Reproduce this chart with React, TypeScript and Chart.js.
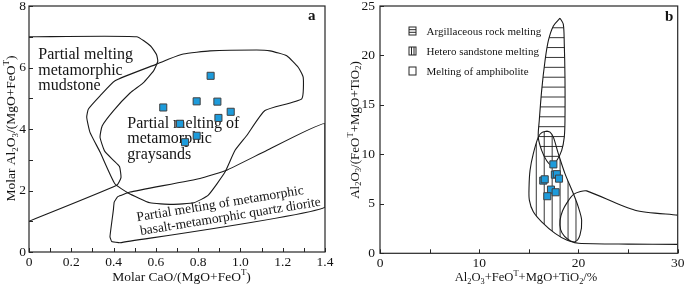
import React, { useEffect, useRef } from 'react';
import { Chart, registerables } from 'chart.js';

Chart.register(...registerables);

type Pt = [number, number];
type Seg = { t: string; s?: 'sub' | 'sup' };

const SERIF = '"Liberation Serif", "Times New Roman", Times, serif';
const INK = '#141414';

// ---------------- Panel a data ----------------
const aXTickValues = [0, 0.2, 0.4, 0.6, 0.8, 1.0, 1.2, 1.4];
const aXTickLabels = ['0', '0.2', '0.4', '0.6', '0.8', '1.0', '1.2', '1.4'];
const aYTickValues = [0, 2, 4, 6, 8];
const aYTickLabels = ['0', '2', '4', '6', '8'];

const aSampleCaO = [0.859, 0.635, 0.793, 0.891, 0.954, 0.896, 0.714, 0.793, 0.738];
const aSampleAl = [5.73, 4.7, 4.9, 4.89, 4.56, 4.36, 4.17, 3.78, 3.57];

const aMudstoneField: Pt[] = [
  [0, 7.0], [0.509, 7.0], [0.575, 6.7], [0.603, 6.42], [0.609, 6.2], [0.59, 5.9],
  [0.54, 5.5], [0.478, 5.17], [0.4, 4.6], [0.346, 4.1], [0.336, 3.73], [0.358, 3.28],
  [0.4, 2.98], [0.428, 2.78], [0.435, 2.42], [0.415, 2.17], [0, 1.0],
];
const aGraysandField: Pt[] = [
  [0.604, 6.11], [0.659, 6.27], [0.73, 6.44], [0.856, 6.54], [1.077, 6.57], [1.14, 6.54],
  [1.219, 6.38], [1.274, 6.0], [1.297, 5.68], [1.29, 4.98], [1.116, 4.6], [1.03, 3.79],
  [0.974, 3.3], [0.927, 2.6], [0.848, 1.85], [0.78, 1.6], [0.675, 1.55], [0.572, 1.6],
  [0.469, 1.92], [0.406, 2.22], [0.336, 3.25], [0.288, 3.9], [0.273, 4.38], [0.281, 4.65],
  [0.336, 5.08], [0.407, 5.57], [0.604, 6.11],
];
const aDioriteField: Pt[] = [
  [0.43, 0.3], [1.4, 1.46], [1.4, 4.17], [1.124, 3.3], [0.935, 2.66], [0.809, 2.39],
  [0.478, 1.95], [0.42, 1.8], [0.403, 1.62], [0.399, 1.36], [0.383, 0.5], [0.391, 0.34],
  [0.43, 0.3],
];

const aMudstoneLabel = ['Partial melting', 'metamorphic', 'mudstone'];
const aGraysandLabel = ['Partial melting of', 'metamorphic', 'graysands'];
const aDioriteLabel = ['Partial melting of metamorphic', 'basalt-metamorphic quartz diorite'];

const aXTitle: Seg[] = [{ t: 'Molar CaO/(MgO+FeO' }, { t: 'T', s: 'sup' }, { t: ')' }];
const aYTitle: Seg[] = [
  { t: 'Molar Al' }, { t: '2', s: 'sub' }, { t: 'O' }, { t: '3', s: 'sub' },
  { t: '/(MgO+FeO' }, { t: 'T', s: 'sup' }, { t: ')' },
];

// ---------------- Panel b data ----------------
const bXTickValues = [0, 10, 20, 30];
const bXTickLabels = ['0', '10', '20', '30'];
const bYTickValues = [0, 5, 10, 15, 20, 25];
const bYTickLabels = ['0', '5', '10', '15', '20', '25'];

const bSampleSum = [17.47, 17.62, 17.82, 18.04, 16.45, 16.6, 17.23, 17.7, 16.86];
const bSampleRatio = [8.99, 7.95, 8.0, 7.55, 7.35, 7.48, 6.44, 6.17, 5.77];

const bArgillaceousField: Pt[] = [
  [18.14, 23.77], [18.47, 23.16], [18.57, 21.15], [18.64, 17.78], [18.64, 13.42],
  [18.57, 11.74], [18.31, 10.4], [17.8, 9.35], [17.3, 8.9], [16.8, 9.35], [16.29, 10.4],
  [15.95, 11.74], [16.05, 13.42], [16.29, 16.45], [16.63, 19.47], [16.96, 21.48],
  [17.47, 22.99], [18.14, 23.77],
];
const bHeteroField: Pt[] = [
  [16.8, 12.35], [17.13, 12.25], [17.47, 11.74], [17.97, 10.07], [18.64, 8.06],
  [19.48, 6.04], [19.98, 4.69], [20.32, 3.35], [20.15, 1.84], [19.65, 1.17], [18.81, 1.34],
  [17.64, 2.01], [16.29, 3.18], [15.45, 4.19], [15.05, 5.37], [15.02, 6.71], [15.12, 8.39],
  [15.45, 10.07], [15.95, 11.74], [16.3, 12.2], [16.8, 12.35],
];
const bAmphiboliteField: Pt[] = [
  [30, 3.86], [25.7, 4.36], [20.83, 6.31], [20.2, 6.25], [19.5, 5.95], [18.9, 5.2],
  [18.4, 4.3], [18.14, 3.3], [18.2, 2.4], [18.6, 1.7], [19.2, 1.25], [20.0, 1.02],
  [25, 0.93], [30, 0.9],
];

const bLegendLabels = ['Argillaceous rock melting', 'Hetero sandstone melting', 'Melting of amphibolite'];

const bXTitle: Seg[] = [
  { t: 'Al' }, { t: '2', s: 'sub' }, { t: 'O' }, { t: '3', s: 'sub' }, { t: '+FeO' },
  { t: 'T', s: 'sup' }, { t: '+MgO+TiO' }, { t: '2', s: 'sub' }, { t: '/%' },
];
const bYTitle: Seg[] = [
  { t: 'Al' }, { t: '2', s: 'sub' }, { t: 'O' }, { t: '3', s: 'sub' }, { t: '/(FeO' },
  { t: 'T', s: 'sup' }, { t: '+MgO+TiO' }, { t: '2', s: 'sub' }, { t: ')' },
];

// ---------------- helpers ----------------
const toXY = (xs: number[], ys: number[]) => xs.map((x, i) => ({ x, y: ys[i] }));
const ptsXY = (p: Pt[]) => p.map(([x, y]) => ({ x, y }));

function boundary(p: Pt[], tension: number) {
  return {
    data: ptsXY(p),
    showLine: true,
    pointRadius: 0,
    pointHoverRadius: 0,
    borderColor: '#1a1a1a',
    borderWidth: 1.1,
    fill: false,
    tension,
  };
}

function samples(xs: number[], ys: number[]) {
  return {
    data: toXY(xs, ys),
    showLine: false,
    pointStyle: 'rect',
    pointRadius: 5,
    pointHoverRadius: 5,
    backgroundColor: '#1d9bdb',
    borderColor: '#404040',
    borderWidth: 1,
  };
}

function drawRich(ctx: CanvasRenderingContext2D, segs: Seg[], x: number, y: number, size: number, rotate: boolean) {
  ctx.save();
  ctx.translate(x, y);
  if (rotate) ctx.rotate(-Math.PI / 2);
  const small = size * 0.66;
  const widths = segs.map((s) => {
    ctx.font = `${s.s ? small : size}px ${SERIF}`;
    return ctx.measureText(s.t).width;
  });
  const total = widths.reduce((a, b) => a + b, 0);
  let cx = -total / 2;
  ctx.textAlign = 'left';
  ctx.textBaseline = 'alphabetic';
  ctx.fillStyle = INK;
  segs.forEach((s, i) => {
    ctx.font = `${s.s ? small : size}px ${SERIF}`;
    const dy = s.s === 'sub' ? size * 0.2 : s.s === 'sup' ? -size * 0.42 : 0;
    ctx.fillText(s.t, cx, dy);
    cx += widths[i];
  });
  ctx.restore();
}

function frameAndTicks(chart: any, xStep: number, yStep: number) {
  const { ctx, chartArea: a } = chart;
  const xs = chart.scales.x;
  const ys = chart.scales.y;
  ctx.save();
  ctx.strokeStyle = '#262626';
  ctx.lineWidth = 1.2;
  ctx.strokeRect(a.left, a.top, a.right - a.left, a.bottom - a.top);
  ctx.lineWidth = 1;
  ctx.beginPath();
  for (let v = xs.min; v <= xs.max + 1e-9; v += xStep) {
    const px = Math.round(xs.getPixelForValue(v)) + 0.5;
    ctx.moveTo(px, a.bottom);
    ctx.lineTo(px, a.bottom - 4);
  }
  for (let v = ys.min; v <= ys.max + 1e-9; v += yStep) {
    const py = Math.round(ys.getPixelForValue(v)) + 0.5;
    ctx.moveTo(a.left, py);
    ctx.lineTo(a.left + 4, py);
  }
  ctx.stroke();
  ctx.restore();
}

function clipToLine(chart: any, index: number, pts: Pt[]) {
  const ctx: CanvasRenderingContext2D = chart.ctx;
  const line = chart.getDatasetMeta(index).dataset;
  ctx.beginPath();
  let ok = false;
  try {
    if (line && typeof line.path === 'function') {
      if (typeof line.updateControlPoints === 'function') line.updateControlPoints(chart.chartArea, 'x');
      line.path(ctx);
      ok = true;
    }
  } catch (e) {
    ok = false;
  }
  if (!ok) {
    ctx.beginPath();
    pts.forEach(([x, y], i) => {
      const px = chart.scales.x.getPixelForValue(x);
      const py = chart.scales.y.getPixelForValue(y);
      if (i) ctx.lineTo(px, py);
      else ctx.moveTo(px, py);
    });
  }
  ctx.closePath();
  ctx.clip();
}

function hatch(chart: any, index: number, pts: Pt[], dir: 'h' | 'v', from: number, to: number, step: number) {
  const ctx: CanvasRenderingContext2D = chart.ctx;
  const a = chart.chartArea;
  ctx.save();
  clipToLine(chart, index, pts);
  ctx.beginPath();
  for (let v = from; v <= to + 1e-9; v += step) {
    if (dir === 'h') {
      const py = chart.scales.y.getPixelForValue(v);
      ctx.moveTo(a.left, py);
      ctx.lineTo(a.right, py);
    } else {
      const px = chart.scales.x.getPixelForValue(v);
      ctx.moveTo(px, a.top);
      ctx.lineTo(px, a.bottom);
    }
  }
  ctx.strokeStyle = '#1e1e1e';
  ctx.lineWidth = 0.9;
  ctx.stroke();
  ctx.restore();
}

function axisScales(
  xMin: number, xMax: number, xVals: number[], xLabels: string[],
  yMin: number, yMax: number, yVals: number[], yLabels: string[],
  yWidth: number, xHeight: number, yPad: number,
) {
  const font = { family: SERIF, size: 13.5 };
  return {
    x: {
      type: 'linear',
      min: xMin,
      max: xMax,
      afterBuildTicks: (s: any) => { s.ticks = xVals.map((v) => ({ value: v })); },
      ticks: { callback: (_v: any, i: number) => xLabels[i], font, color: INK, padding: 2, maxRotation: 0, minRotation: 0, autoSkip: false },
      grid: { display: false, drawTicks: false },
      border: { display: false },
      afterFit: (s: any) => { s.height = xHeight; s.paddingLeft = 0; s.paddingRight = 0; },
    },
    y: {
      type: 'linear',
      min: yMin,
      max: yMax,
      afterBuildTicks: (s: any) => { s.ticks = yVals.map((v) => ({ value: v })); },
      ticks: { callback: (_v: any, i: number) => yLabels[i], font, color: INK, padding: yPad, autoSkip: false },
      grid: { display: false, drawTicks: false },
      border: { display: false },
      afterFit: (s: any) => { s.width = yWidth; s.paddingTop = 0; s.paddingBottom = 0; },
    },
  };
}

// ---------------- Panel a ----------------
function makeConfigA(): any {
  const decor = {
    id: 'decorA',
    beforeDatasetsDraw(chart: any) {
      const ctx: CanvasRenderingContext2D = chart.ctx;
      const xs = chart.scales.x;
      const ys = chart.scales.y;
      ctx.save();
      ctx.fillStyle = INK;
      ctx.textAlign = 'left';
      ctx.textBaseline = 'alphabetic';
      ctx.font = `16px ${SERIF}`;
      aMudstoneLabel.forEach((t, i) => ctx.fillText(t, xs.getPixelForValue(0.044), ys.getPixelForValue(6.27) + i * 15.5));
      aGraysandLabel.forEach((t, i) => ctx.fillText(t, xs.getPixelForValue(0.465), ys.getPixelForValue(4.04) + i * 15.5));
      ctx.font = `13.5px ${SERIF}`;
      const starts: Pt[] = [[0.512, 1.0], [0.528, 0.55]];
      aDioriteLabel.forEach((t, i) => {
        ctx.save();
        ctx.translate(xs.getPixelForValue(starts[i][0]), ys.getPixelForValue(starts[i][1]));
        ctx.rotate((-9.3 * Math.PI) / 180);
        ctx.fillText(t, 0, 0);
        ctx.restore();
      });
      ctx.restore();
    },
    afterDraw(chart: any) {
      const ctx: CanvasRenderingContext2D = chart.ctx;
      frameAndTicks(chart, 0.1, 1);
      drawRich(ctx, aXTitle, 181.5, 281, 13.5, false);
      drawRich(ctx, aYTitle, 15, 128.5, 13.5, true);
      ctx.save();
      ctx.fillStyle = INK;
      ctx.font = `bold 15px ${SERIF}`;
      ctx.textAlign = 'left';
      ctx.fillText('a', 308, 19.5);
      ctx.restore();
    },
  };
  return {
    type: 'scatter',
    data: {
      datasets: [
        samples(aSampleCaO, aSampleAl),
        boundary(aMudstoneField, 0.15),
        boundary(aGraysandField, 0.15),
        boundary(aDioriteField, 0.1),
      ],
    },
    options: {
      animation: false,
      responsive: false,
      devicePixelRatio: 1,
      events: [],
      layout: { padding: { left: 0, top: 5, right: 15, bottom: 0 } },
      plugins: { legend: { display: false }, tooltip: { enabled: false } },
      scales: axisScales(0, 1.4, aXTickValues, aXTickLabels, 0, 8, aYTickValues, aYTickLabels, 29, 36, 3),
    },
    plugins: [decor],
  };
}

// ---------------- Panel b ----------------
function makeConfigB(): any {
  const decor = {
    id: 'decorB',
    beforeDatasetDraw(chart: any, args: any) {
      if (args.index !== 0) return;
      hatch(chart, 1, bArgillaceousField, 'h', 8.8, 23.8, 1.0);
      hatch(chart, 2, bHeteroField, 'v', 15.75, 20.6, 0.8);
    },
    afterDraw(chart: any) {
      const ctx: CanvasRenderingContext2D = chart.ctx;
      frameAndTicks(chart, 5, 5);
      drawRich(ctx, bXTitle, 186, 281, 12.6, false);
      drawRich(ctx, bYTitle, 18.5, 130, 13, true);
      ctx.save();
      ctx.fillStyle = INK;
      ctx.font = `bold 15px ${SERIF}`;
      ctx.textAlign = 'left';
      ctx.fillText('b', 325, 20.5);
      // legend
      const a = chart.chartArea;
      const bx = a.left + 28.5;
      ctx.font = `11px ${SERIF}`;
      ctx.strokeStyle = '#262626';
      ctx.lineWidth = 1;
      bLegendLabels.forEach((t, i) => {
        const top = 26.5 + i * 20;
        ctx.strokeRect(bx + 0.5, top + 0.5, 7, 8);
        ctx.beginPath();
        if (i === 0) {
          ctx.moveTo(bx + 0.5, top + 3.2); ctx.lineTo(bx + 7.5, top + 3.2);
          ctx.moveTo(bx + 0.5, top + 5.8); ctx.lineTo(bx + 7.5, top + 5.8);
        } else if (i === 1) {
          ctx.moveTo(bx + 3, top + 0.5); ctx.lineTo(bx + 3, top + 8.5);
          ctx.moveTo(bx + 5.5, top + 0.5); ctx.lineTo(bx + 5.5, top + 8.5);
        }
        ctx.stroke();
        ctx.fillText(t, bx + 18, top + 8);
      });
      ctx.restore();
    },
  };
  return {
    type: 'scatter',
    data: {
      datasets: [
        samples(bSampleSum, bSampleRatio),
        boundary(bArgillaceousField, 0.3),
        boundary(bHeteroField, 0.3),
        boundary(bAmphiboliteField, 0.25),
      ],
    },
    options: {
      animation: false,
      responsive: false,
      devicePixelRatio: 1,
      events: [],
      layout: { padding: { left: 0, top: 5, right: 7.3, bottom: 0 } },
      plugins: { legend: { display: false }, tooltip: { enabled: false } },
      scales: axisScales(0, 30, bXTickValues, bXTickLabels, 0, 25, bYTickValues, bYTickLabels, 40, 34.7, 5),
    },
    plugins: [decor],
  };
}

function ChartCanvas({ left, width, height, make }: { left: number; width: number; height: number; make: () => any }) {
  const ref = useRef<HTMLCanvasElement>(null);
  useEffect(() => {
    if (!ref.current) return;
    const chart = new Chart(ref.current, make());
    return () => chart.destroy();
  }, [make]);
  return (
    <canvas
      ref={ref}
      width={width}
      height={height}
      style={{ position: 'absolute', left, top: 0, width, height, display: 'block' }}
    />
  );
}

export default function App() {
  return (
    <div style={{ position: 'fixed', left: 0, top: 0, width: 685, height: 288, background: '#ffffff', overflow: 'hidden' }}>
      <ChartCanvas left={0} width={340} height={288} make={makeConfigA} />
      <ChartCanvas left={340} width={345} height={288} make={makeConfigB} />
    </div>
  );
}
